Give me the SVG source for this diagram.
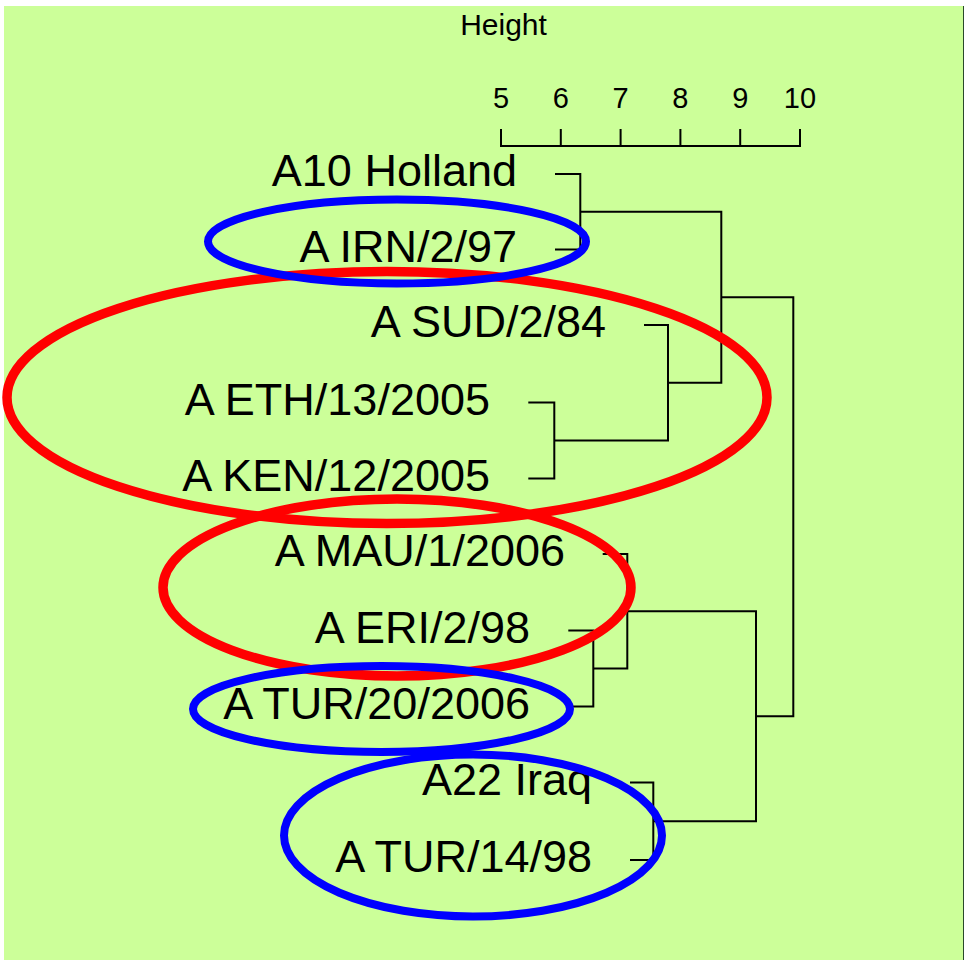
<svg xmlns="http://www.w3.org/2000/svg" width="966" height="960" viewBox="0 0 966 960">
  <style>
    .lbl { font-family: "Liberation Sans", Arial, sans-serif; font-size: 45px; fill: #000; text-anchor: end; }
    .axis-text { font-family: "Liberation Sans", Arial, sans-serif; font-size: 29px; fill: #000; text-anchor: middle; }
    .title { font-family: "Liberation Sans", Arial, sans-serif; font-size: 30px; fill: #000; text-anchor: middle; }
    .tree { fill: none; stroke: #000; stroke-width: 2; }
    .ring-red { fill: none; stroke: #ff0000; stroke-width: 9.5; }
    .ring-blue { fill: none; stroke: #0000ff; stroke-width: 8; }
  </style>

  <!-- plot background -->
  <rect x="0" y="0" width="966" height="960" fill="#ffffff"/>
  <rect x="4" y="6" width="959" height="954" fill="#ccff99"/>
  <line x1="963.5" y1="6" x2="963.5" y2="960" stroke="#2a4a2a" stroke-width="1"/>

  <!-- height axis -->
  <g id="axis">
    <text class="title" x="503.5" y="35">Height</text>
    <path class="tree" d="M501,129 V146 H800 V129 M560.8,129 V146 M620.6,129 V146 M680.4,129 V146 M740.2,129 V146"/>
    <text class="axis-text" x="501" y="108">5</text>
    <text class="axis-text" x="560.8" y="108">6</text>
    <text class="axis-text" x="620.6" y="108">7</text>
    <text class="axis-text" x="680.4" y="108">8</text>
    <text class="axis-text" x="740.2" y="108">9</text>
    <text class="axis-text" x="800" y="108">10</text>
  </g>

  <!-- leaf labels -->
  <g id="leaf-holland"><text class="lbl" x="517" y="186">A10 Holland</text></g>
  <g id="leaf-irn"><text class="lbl" x="517" y="261.5">A IRN/2/97</text></g>
  <g id="leaf-sud"><text class="lbl" x="606" y="337">A SUD/2/84</text></g>
  <g id="leaf-eth"><text class="lbl" x="490" y="414.5">A ETH/13/2005</text></g>
  <g id="leaf-ken"><text class="lbl" x="490" y="490.5">A KEN/12/2005</text></g>
  <g id="leaf-mau"><text class="lbl" x="565" y="566">A MAU/1/2006</text></g>
  <g id="leaf-eri"><text class="lbl" x="530" y="642.5">A ERI/2/98</text></g>
  <g id="leaf-tur20"><text class="lbl" x="530" y="718.5">A TUR/20/2006</text></g>
  <g id="leaf-iraq"><text class="lbl" x="592" y="794.5">A22 Iraq</text></g>
  <g id="leaf-tur14"><text class="lbl" x="592" y="872">A TUR/14/98</text></g>

  <!-- dendrogram branches -->
  <g id="connectors" class="tree">
    <path d="M555,174 H580.3 V249.5 H555"/>
    <path d="M528.3,402.5 H554.3 V478.5 H528.3"/>
    <path d="M644,325 H668 V440.5 H554.3"/>
    <path d="M580.3,211.75 H721.3 V382.75 H668"/>
    <path d="M568.3,630.5 H593.3 V706.5 H568.3"/>
    <path d="M602.7,554 H627.3 V668.5 H593.3"/>
    <path d="M630,782.5 H653.3 V860 H630"/>
    <path d="M627.3,611.25 H756 V821.25 H653.3"/>
    <path d="M721.3,297.25 H793.3 V716.25 H756"/>
  </g>

  <!-- cluster highlights -->
  <g id="highlights">
    <ellipse class="ring-red" cx="387" cy="397.5" rx="380" ry="126"/>
    <ellipse class="ring-red" cx="397" cy="587.5" rx="234" ry="88.5"/>
    <ellipse class="ring-blue" cx="397" cy="241.5" rx="189" ry="42"/>
    <ellipse class="ring-blue" cx="381.5" cy="709" rx="188.5" ry="43"/>
    <ellipse class="ring-blue" cx="473" cy="835.5" rx="189" ry="81"/>
  </g>
</svg>
